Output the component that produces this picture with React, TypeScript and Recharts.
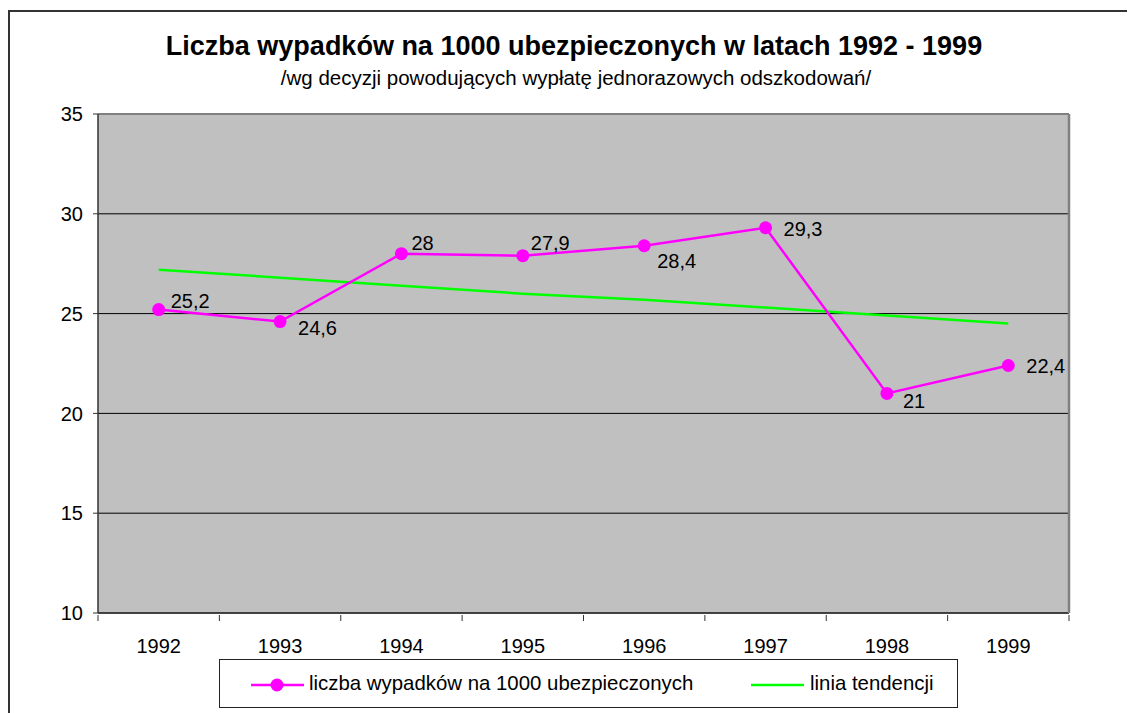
import React from 'react'
import {
  LineChart,
  Line,
  XAxis,
  YAxis,
  CartesianGrid,
  LabelList,
} from 'recharts'

const YEARS = ['1992', '1993', '1994', '1995', '1996', '1997', '1998', '1999']
const ACCIDENTS = [25.2, 24.6, 28, 27.9, 28.4, 29.3, 21, 22.4]
const TREND = [27.2, 26.8, 26.4, 26.0, 25.7, 25.3, 24.9, 24.5]
const Y_TICKS = [10, 15, 20, 25, 30, 35]

const TITLE = 'Liczba wypadków na 1000 ubezpieczonych w latach 1992 - 1999'
const SUBTITLE = '/wg decyzji powodujących wypłatę jednorazowych odszkodowań/'
const SERIES_NAME = 'liczba wypadków na 1000 ubezpieczonych'
const TREND_NAME = 'linia tendencji'

// label placement per point (dx, baseline dy), like the original sheet
const LABEL_OFFSETS: [number, number][] = [
  [12, -2],
  [18, 13],
  [10, -4],
  [8, -6],
  [13, 22],
  [18, 8],
  [16, 15],
  [18, 8],
]

const FONT = '"Liberation Sans", Arial, sans-serif'
const PINK = '#ff00ff'
const GREEN = '#00ff00'

const W = 1127
const H = 705
const MARGIN = { top: 105, right: 65, bottom: 60, left: 30 }
const Y_AXIS_W = 60
const PLOT_W = W - MARGIN.left - MARGIN.right - Y_AXIS_W - 1

const data = YEARS.map((year, i) => ({
  year,
  value: ACCIDENTS[i],
  trend: TREND[i],
}))

function YearTick(props: any) {
  const { x, y, payload, index } = props
  const bw = PLOT_W / YEARS.length
  return (
    <g>
      <line x1={x - bw / 2} x2={x - bw / 2} y1={y} y2={y + 6} stroke="#333" />
      {index === YEARS.length - 1 && (
        <line x1={x + bw / 2} x2={x + bw / 2} y1={y} y2={y + 6} stroke="#333" />
      )}
      <text x={x} y={y + 38} textAnchor="middle" fontSize={20} fill="#000" fontFamily={FONT}>
        {payload.value}
      </text>
    </g>
  )
}

function PointLabel(props: any) {
  const { x, y, value, index } = props
  const [dx, dy] = LABEL_OFFSETS[index] || [10, 0]
  return (
    <text x={x + dx} y={y + dy} fontSize={20} fill="#000" fontFamily={FONT}>
      {String(value).replace('.', ',')}
    </text>
  )
}

function ChartLegend() {
  return (
    <div
      style={{
        position: 'absolute',
        left: 211,
        top: 651,
        width: 737,
        height: 47,
        border: '1px solid #222',
        background: '#fff',
        fontFamily: FONT,
        fontSize: 20.4,
        color: '#000',
      }}
    >
      <svg width={60} height={20} style={{ position: 'absolute', left: 30, top: 15 }}>
        <line x1={1} x2={54} y1={10} y2={10} stroke={PINK} strokeWidth={2.5} />
        <circle cx={27} cy={10} r={6.5} fill={PINK} />
      </svg>
      <span style={{ position: 'absolute', left: 89, top: 12 }}>{SERIES_NAME}</span>
      <svg width={60} height={20} style={{ position: 'absolute', left: 530, top: 15 }}>
        <line x1={1} x2={54} y1={10} y2={10} stroke={GREEN} strokeWidth={2.5} />
      </svg>
      <span style={{ position: 'absolute', left: 590, top: 12 }}>{TREND_NAME}</span>
    </div>
  )
}

export default function App() {
  return (
    <div style={{ position: 'relative', width: W, height: H, fontFamily: FONT, overflow: 'hidden' }}>
      <div
        style={{
          position: 'absolute',
          left: 0,
          top: 2,
          width: W + 20,
          height: H + 20,
          borderTop: '2px solid #333',
          borderLeft: '2px solid #333',
        }}
      />
      <div
        style={{
          position: 'absolute',
          left: 0,
          width: 1132,
          top: 23,
          textAlign: 'center',
          fontWeight: 'bold',
          fontSize: 27,
          color: '#000',
          whiteSpace: 'nowrap',
        }}
      >
        {TITLE}
      </div>
      <div
        style={{
          position: 'absolute',
          left: 0,
          width: 1136,
          top: 58,
          textAlign: 'center',
          fontSize: 20.5,
          color: '#000',
          whiteSpace: 'nowrap',
        }}
      >
        {SUBTITLE}
      </div>
      <LineChart width={W} height={H} data={data} margin={MARGIN} style={{ position: 'absolute', left: 0, top: 0 }}>
        <CartesianGrid vertical={false} stroke="#000" strokeOpacity={1} fill="#c0c0c0" fillOpacity={1} />
        <XAxis
          dataKey="year"
          scale="band"
          height={40}
          tickSize={0}
          tickLine={false}
          axisLine={{ stroke: '#333', strokeWidth: 1.5 }}
          tick={<YearTick />}
          interval={0}
        />
        <XAxis
          xAxisId="top"
          dataKey="year"
          scale="band"
          orientation="top"
          height={1}
          tick={false}
          tickLine={false}
          axisLine={{ stroke: '#808080', strokeWidth: 2 }}
        />
        <YAxis
          domain={[10, 35]}
          ticks={Y_TICKS}
          width={Y_AXIS_W}
          tickSize={5}
          tickMargin={10}
          tickLine={{ stroke: '#333' }}
          axisLine={{ stroke: '#333', strokeWidth: 1.5 }}
          tick={{ fontSize: 20, fill: '#000', fontFamily: FONT }}
          interval={0}
        />
        <YAxis
          yAxisId="right"
          orientation="right"
          domain={[10, 35]}
          width={1}
          tick={false}
          tickLine={false}
          axisLine={{ stroke: '#808080', strokeWidth: 2.5 }}
        />
        <Line
          dataKey="trend"
          name={TREND_NAME}
          stroke={GREEN}
          strokeWidth={2.5}
          dot={false}
          isAnimationActive={false}
        />
        <Line
          dataKey="value"
          name={SERIES_NAME}
          stroke={PINK}
          strokeWidth={2.5}
          dot={{ r: 6.5, fill: PINK, stroke: PINK, strokeWidth: 0 }}
          activeDot={false}
          isAnimationActive={false}
        >
          <LabelList dataKey="value" content={<PointLabel />} />
        </Line>
      </LineChart>
      <ChartLegend />
    </div>
  )
}
